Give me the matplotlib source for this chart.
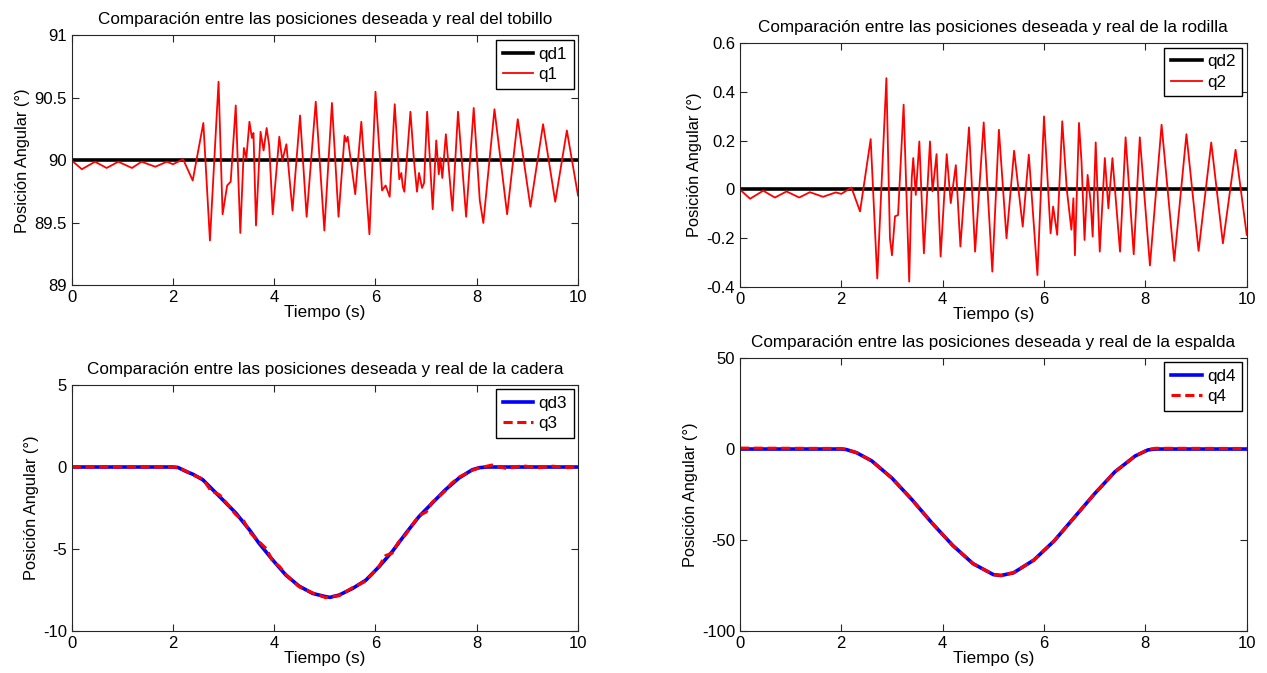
import matplotlib
matplotlib.use("Agg")
import matplotlib.pyplot as plt

# tobillo
t1 = [0, 0.2, 0.46, 0.69, 0.92, 1.19, 1.38, 1.65, 1.88, 2.0, 2.2, 2.39, 2.60, 2.73, 2.90,
      2.98, 3.07, 3.14, 3.24, 3.33, 3.40, 3.45, 3.51, 3.56, 3.59, 3.64, 3.73, 3.79, 3.85,
      3.90, 3.97, 4.10, 4.16, 4.24, 4.36, 4.51, 4.64, 4.82, 4.99, 5.14, 5.27, 5.39, 5.42,
      5.45, 5.60, 5.72, 5.88, 6.00, 6.13, 6.20, 6.28, 6.38, 6.47, 6.51, 6.54, 6.57, 6.69,
      6.76, 6.82, 6.86, 6.92, 6.96, 7.02, 7.13, 7.20, 7.25, 7.28, 7.32, 7.39, 7.52, 7.63,
      7.79, 7.94, 8.06, 8.13, 8.35, 8.60, 8.81, 9.06, 9.31, 9.55, 9.78, 10.0]
q1 = [90.0, 89.93, 89.99, 89.94, 89.99, 89.94, 89.99, 89.95, 89.99, 89.97, 90.01, 89.84, 90.30,
      89.36, 90.63, 89.57, 89.80, 89.83, 90.44, 89.42, 90.10, 90.02, 90.31, 90.18, 90.22, 89.48,
      90.23, 90.08, 90.26, 90.12, 89.57, 90.19, 90.0, 90.13, 89.60, 90.36, 89.55, 90.47, 89.44,
      90.46, 89.55, 90.20, 90.15, 90.19, 89.73, 90.31, 89.41, 90.55, 89.76, 89.80, 89.71, 90.45,
      89.85, 89.90, 89.79, 89.75, 90.39, 90.0, 89.75, 89.90, 89.78, 89.82, 90.39, 89.61, 90.16,
      89.89, 90.02, 89.86, 90.21, 89.60, 90.39, 89.55, 90.42, 89.68, 89.50, 90.41, 89.57, 90.33,
      89.63, 90.29, 89.67, 90.24, 89.72]

# rodilla
t2 = [0, 0.2, 0.46, 0.69, 0.92, 1.17, 1.38, 1.64, 1.89, 2.0, 2.2, 2.37, 2.58, 2.71, 2.89, 2.96,
      3.00, 3.06, 3.12, 3.23, 3.34, 3.39, 3.42, 3.47, 3.54, 3.63, 3.75, 3.80, 3.88, 3.96, 4.08,
      4.16, 4.26, 4.35, 4.52, 4.64, 4.81, 4.98, 5.11, 5.26, 5.41, 5.58, 5.70, 5.87, 6.00, 6.13,
      6.18, 6.26, 6.36, 6.45, 6.54, 6.58, 6.61, 6.69, 6.74, 6.80, 6.86, 6.92, 6.96, 7.02, 7.10,
      7.20, 7.27, 7.35, 7.50, 7.61, 7.77, 7.89, 8.09, 8.32, 8.57, 8.81, 9.05, 9.30, 9.53, 9.78,
      10.0]
q2 = [0, -0.038, -0.005, -0.033, -0.008, -0.033, -0.011, -0.03, -0.012, -0.018, 0.008, -0.09,
      0.207, -0.365, 0.457, -0.20, -0.27, -0.11, -0.105, 0.348, -0.378, 0.047, 0.129, -0.022,
      0.197, -0.262, 0.197, -0.008, 0.145, -0.275, 0.145, -0.056, 0.10, -0.234, 0.255, -0.255,
      0.275, -0.337, 0.245, -0.20, 0.159, -0.152, 0.143, -0.351, 0.30, -0.18, -0.07, -0.186,
      0.28, 0.0, -0.165, -0.036, -0.27, 0.273, 0.115, -0.207, 0.06, -0.05, -0.193, 0.193,
      -0.255, 0.129, -0.077, 0.129, -0.255, 0.214, -0.266, 0.214, -0.312, 0.266, -0.293, 0.227,
      -0.252, 0.193, -0.221, 0.163, -0.186]

# cadera
t3 = [0, 2.0, 2.1, 2.26, 2.4, 2.59, 2.92, 3.24, 3.51, 3.70, 3.97, 4.23, 4.49, 4.76, 5.02, 5.1,
      5.28, 5.55, 5.81, 6.07, 6.33, 6.60, 6.86, 7.12, 7.38, 7.65, 7.91, 8.05, 8.2, 10.0]
qd3 = [0, 0, -0.03, -0.27, -0.45, -0.78, -1.8, -2.8, -3.83, -4.65, -5.67, -6.59, -7.26, -7.71,
       -7.91, -7.95, -7.81, -7.4, -6.9, -6.08, -5.16, -4.04, -3.02, -2.2, -1.39, -0.67, -0.17,
       -0.04, 0, 0]
tq3 = [0, 2.0, 2.1, 2.26, 2.4, 2.59, 2.75, 2.92, 3.1, 3.24, 3.4, 3.51, 3.70, 3.85, 3.97, 4.1,
       4.23, 4.49, 4.76, 5.02, 5.1, 5.28, 5.55, 5.81, 6.07, 6.2, 6.33, 6.45, 6.60, 6.86, 7.0,
       7.12, 7.38, 7.5, 7.65, 7.91, 8.05, 8.3, 8.6, 8.9, 9.2, 9.5, 9.8, 10.0]
q3 = [0, 0, -0.03, -0.25, -0.5, -0.72, -1.45, -1.7, -2.35, -2.9, -3.3, -3.95, -4.55, -5.0, -5.75,
      -6.05, -6.55, -7.3, -7.68, -7.97, -7.9, -7.85, -7.35, -6.95, -6.05, -5.4, -5.25, -4.6,
      -4.1, -2.95, -2.75, -2.15, -1.45, -1.0, -0.62, -0.2, -0.05, 0.12, -0.1, 0.08, -0.05, 0.05,
      -0.04, 0.03]

# espalda
t4 = [0, 2.0, 2.1, 2.3, 2.6, 3.0, 3.4, 3.8, 4.2, 4.6, 5.0, 5.15, 5.4, 5.8, 6.2, 6.6, 7.0, 7.4,
      7.8, 8.05, 8.2, 10.0]
qd4 = [0, 0, -0.3, -2.0, -6.5, -16.0, -28.0, -41.0, -53.0, -63.0, -69.0, -69.5, -68.0, -61.0,
       -50.5, -37.5, -24.5, -12.5, -3.8, -0.5, 0, 0]
q4 = [0.5, 0.3, -0.3, -2.0, -6.5, -16.0, -28.0, -41.0, -53.0, -63.0, -69.0, -69.5, -68.0, -61.0,
      -50.5, -37.5, -24.5, -12.5, -3.8, -0.3, 0.4, 0.3]

titles = ["Comparación entre las posiciones deseada y real del tobillo",
          "Comparación entre las posiciones deseada y real de la rodilla",
          "Comparación entre las posiciones deseada y real de la cadera",
          "Comparación entre las posiciones deseada y real de la espalda"]

plt.rcParams["font.family"] = ["Liberation Sans", "DejaVu Sans"]
plt.rcParams["font.size"] = 12

fig = plt.figure(figsize=(12.67, 6.73), dpi=100)
ax1 = fig.add_axes([0.0566, 0.5758, 0.3996, 0.3715])
ax2 = fig.add_axes([0.584, 0.5736, 0.400, 0.3621])
ax3 = fig.add_axes([0.0566, 0.0624, 0.3996, 0.3655])
ax4 = fig.add_axes([0.584, 0.0624, 0.400, 0.4056])


def estilo(ax, titulo, ylim, yticks, yticklabels):
    ax.set_xlim(0, 10)
    ax.set_ylim(*ylim)
    ax.set_xticks([0, 2, 4, 6, 8, 10])
    ax.set_yticks(yticks)
    ax.set_yticklabels(yticklabels)
    ax.tick_params(direction="in", top=True, right=True, length=5, width=0.8,
                   colors="#262626", labelcolor="black", labelsize=12)
    for s in ax.spines.values():
        s.set_color("#262626")
        s.set_linewidth(0.8)
    ax.set_title(titulo, fontsize=12.3, pad=8)
    ax.set_xlabel("Tiempo (s)", fontsize=12.3, labelpad=0)
    ax.set_ylabel("Posición Angular (°)", fontsize=11.8, labelpad=3)
    ax.legend(loc="upper right", fancybox=False, edgecolor="black", framealpha=1,
              fontsize=12.3, handlelength=1.8, borderaxespad=0.25, borderpad=0.4,
              labelspacing=0.3, handletextpad=0.3)


ax1.plot([0, 10], [90, 90], color="black", lw=2.6, label="qd1")
ax1.plot(t1, q1, color="red", lw=1.3, label="q1")
estilo(ax1, titles[0], (89, 91), [89, 89.5, 90, 90.5, 91], ["89", "89.5", "90", "90.5", "91"])

ax2.plot([0, 10], [0, 0], color="black", lw=2.6, label="qd2")
ax2.plot(t2, q2, color="red", lw=1.3, label="q2")
estilo(ax2, titles[1], (-0.4, 0.6), [-0.4, -0.2, 0, 0.2, 0.4, 0.6],
       ["-0.4", "-0.2", "0", "0.2", "0.4", "0.6"])

ax3.plot(t3, qd3, color="blue", lw=2.6, label="qd3")
ax3.plot(tq3, q3, color="red", lw=2.2, ls=(0, (3, 1.5)), label="q3")
estilo(ax3, titles[2], (-10, 5), [-10, -5, 0, 5], ["-10", "-5", "0", "5"])

ax4.plot(t4, qd4, color="blue", lw=2.6, label="qd4")
ax4.plot(t4, q4, color="red", lw=2.2, ls=(0, (3, 1.5)), label="q4")
estilo(ax4, titles[3], (-100, 50), [-100, -50, 0, 50], ["-100", "-50", "0", "50"])

fig.savefig("out.png", dpi=100)
